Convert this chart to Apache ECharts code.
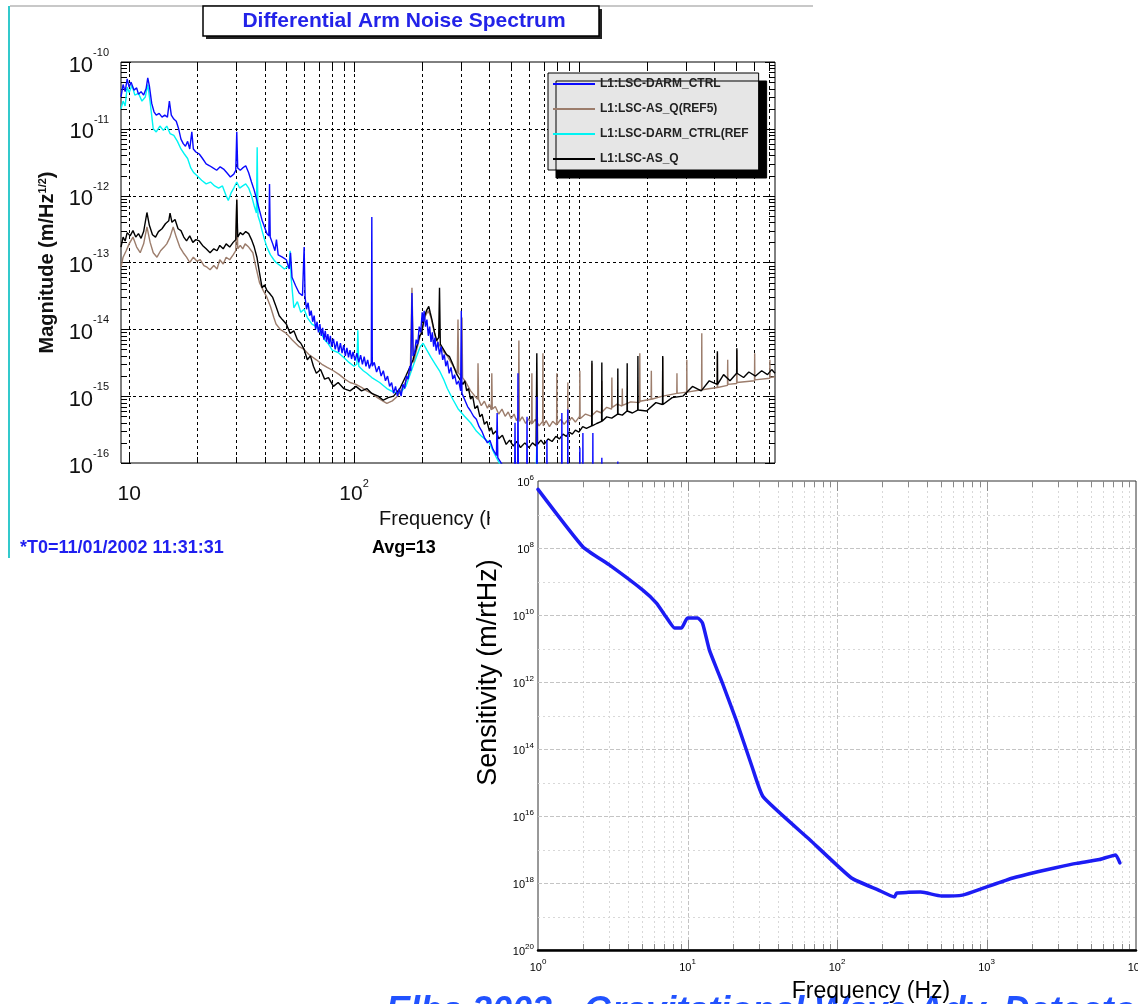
<!DOCTYPE html>
<html>
<head>
<meta charset="utf-8">
<script src="https://cdn.jsdelivr.net/npm/echarts@6/dist/echarts.min.js"></script>
<style>
  html, body { margin: 0; padding: 0; background: #fff; overflow: hidden; }
  #chart { width: 1138px; height: 1004px; }
</style>
</head>
<body>
<div id="chart"></div>
<script>
// ---------- Differential arm noise spectrum: [frequency Hz, magnitude m/Hz^1/2] ----------
const darmCtrl = [
  [9.2,3.0e-11],[9.4,4.6e-11],[9.6,3.6e-11],[9.8,5.6e-11],[10.0,4.2e-11],[10.2,5.0e-11],[10.5,3.8e-11],[10.8,4.1e-11],
  [11.0,3.3e-11],[11.3,3.6e-11],[11.6,3.2e-11],[11.9,4.0e-11],[12.1,5.8e-11],[12.3,4.4e-11],[12.6,2.4e-11],[12.9,1.8e-11],
  [13.2,1.6e-11],[13.6,1.7e-11],[14.0,1.5e-11],[14.4,1.6e-11],[14.8,1.5e-11],[15.1,2.6e-11],[15.4,1.6e-11],[15.8,1.4e-11],
  [16.2,1.3e-11],[16.6,1.0e-11],[17.0,7.0e-12],[17.4,6.0e-12],[17.8,5.5e-12],[18.2,6.5e-12],[18.6,5.0e-12],[19.0,9.0e-12],
  [19.3,5.0e-12],[19.8,4.5e-12],[20.5,4.2e-12],[21.2,3.6e-12],[22.0,3.0e-12],[22.8,2.8e-12],[23.6,2.6e-12],[24.5,2.4e-12],
  [25.4,2.7e-12],[26.3,2.5e-12],[27.2,2.2e-12],[28.2,1.9e-12],[29.2,2.1e-12],[29.8,2.4e-12],[30.1,9.0e-12],[30.4,2.6e-12],
  [31.2,2.4e-12],[32.0,2.6e-12],[33.0,2.8e-12],[34.0,2.2e-12],[35.0,1.6e-12],[36.0,1.2e-12],[37.0,8.5e-13],[38.0,6.0e-13],
  [39.0,4.3e-13],[40.0,3.4e-13],[41.0,2.7e-13],[41.8,2.5e-13],[42.1,1.5e-12],[42.4,2.4e-13],[43.5,1.9e-13],[44.5,1.5e-13],
  [45.2,2.2e-13],[46.0,1.3e-13],[48.0,1.2e-13],[50.0,1.1e-13],[51.5,8.0e-14],[52.2,1.4e-13],[53.0,6.0e-14],[55.0,4.5e-14],
  [57.0,3.5e-14],[59.0,3.2e-14],[60.0,1.7e-13],[60.6,3.0e-14],[61.5,2.0e-14],[62.5,2.5e-14],[63.5,1.6e-14],[64.5,1.9e-14],
  [65.5,1.3e-14],[66.5,1.6e-14],[67.5,1.0e-14],[68.5,1.3e-14],[69.5,9.0e-15],[70.5,1.2e-14],[71.5,8.0e-15],[72.5,1.05e-14],
  [73.5,7.0e-15],[74.5,9.5e-15],[75.5,6.5e-15],[76.5,8.5e-15],[77.5,6.0e-15],[78.5,8.0e-15],[79.5,5.5e-15],[81,7.2e-15],
  [82.5,5.0e-15],[84,6.6e-15],[85.5,4.6e-15],[87,6.2e-15],[88.5,4.4e-15],[90,5.8e-15],[91.5,4.0e-15],[93,5.3e-15],
  [94.5,3.8e-15],[96,4.9e-15],[97.5,3.6e-15],[99,4.6e-15],[101,3.4e-15],[103,4.4e-15],[105,3.2e-15],[107,4.1e-15],
  [109,3.0e-15],[111,3.9e-15],[113,2.8e-15],[115,3.5e-15],[117,2.6e-15],[119.4,3.2e-15],[120,4.8e-13],[120.6,2.8e-15],
  [123,3.2e-15],[126,2.3e-15],[129,2.8e-15],[132,2.0e-15],[135,2.4e-15],[138,1.7e-15],[141,2.0e-15],[144,1.4e-15],
  [147,1.6e-15],[150,1.1e-15],[153,1.4e-15],[156,1.0e-15],[159,1.3e-15],[162,1.0e-15],[165,1.5e-15],[168,1.3e-15],
  [171,2.0e-15],[174,1.8e-15],[177,2.8e-15],[179,2.4e-15],[181,3.5e-14],[183,4.0e-15],[186,4.5e-15],[189,7.0e-15],
  [192,6.0e-15],[195,1.1e-14],[198,9.0e-15],[201,1.8e-14],[203,1.3e-14],[205,1.9e-14],[208,1.1e-14],[211,1.4e-14],
  [214,8.0e-15],[217,1.1e-14],[220,6.5e-15],[223,9.0e-15],[226,5.5e-15],[229,7.5e-15],[232,4.8e-15],[236,6.5e-15],
  [240,4.2e-15],[244,5.5e-15],[248,3.5e-15],[252,4.2e-15],[256,2.8e-15],[260,3.4e-15],[265,2.2e-15],[270,2.7e-15],
  [275,1.8e-15],[280,2.1e-15],[286,1.5e-15],[292,1.7e-15],[298,1.2e-15],[300,1.9e-14],[302,1.1e-15],[310,9.0e-16],
  [320,7.0e-16],[330,6.0e-16],[340,5.0e-16],[350,4.5e-16],[360,3.5e-16],[370,3.0e-16],[380,2.4e-16],[392,2.0e-16],
  [402,2.2e-16],[415,1.6e-16],[430,1.3e-16],[433,5.6e-16],[436,1.2e-16],[460,9.0e-17],[490,7.0e-17],[518,6.0e-17],
  [520,4.0e-16],[522,6.0e-17],[534,6.0e-17],[536,2.2e-15],[538,6.0e-17],[586,5.0e-17],[588,4.9e-16],[590,5.0e-17],
  [649,5.0e-17],[651,9.8e-16],[653,5.0e-17],[719,4.5e-17],[721,2.2e-16],[723,4.5e-17],[838,4.0e-17],[840,5.6e-16],
  [842,4.0e-17],[891,4.0e-17],[893,6.3e-16],[895,4.0e-17],[1008,3.5e-17],[1010,1.7e-16],[1013,3.5e-17],[1040,3.5e-17],
  [1042,2.8e-16],[1044,3.5e-17],[1152,3.2e-17],[1154,2.8e-16],[1156,3.2e-17],[1263,3.0e-17],[1265,1.2e-16],[1268,3.0e-17],
  [1487,2.8e-17],[1490,1.05e-16],[1493,2.8e-17],[2000,2.5e-17]
];

const asQRef5 = [
  [9.2,8.5e-14],[9.4,1.2e-13],[9.7,1.5e-13],[10.0,1.9e-13],[10.4,2.4e-13],[10.8,1.7e-13],[11.2,1.4e-13],[11.6,1.9e-13],
  [12.0,3.4e-13],[12.4,2.0e-13],[12.8,1.4e-13],[13.3,1.2e-13],[13.8,1.5e-13],[14.3,1.7e-13],[14.7,1.9e-13],[15.2,2.4e-13],
  [15.7,3.4e-13],[16.2,2.4e-13],[16.8,1.7e-13],[17.4,1.4e-13],[18.0,1.2e-13],[18.6,1.0e-13],[19.3,1.2e-13],[20.0,1.05e-13],
  [20.7,1.1e-13],[21.5,9.0e-14],[22.2,8.5e-14],[22.9,7.8e-14],[23.8,9.0e-14],[24.6,8.0e-14],[25.3,1.1e-13],[26.2,9.5e-14],
  [27.0,1.2e-13],[28.0,1.1e-13],[29.0,1.3e-13],[29.8,1.5e-13],[30.1,9.0e-13],[30.4,1.6e-13],[31.2,1.8e-13],[32.0,1.6e-13],
  [32.8,1.9e-13],[34.0,1.7e-13],[35.5,1.4e-13],[36.5,9.0e-14],[38.0,5.0e-14],[39.5,3.8e-14],[41.0,3.0e-14],[42.5,2.2e-14],
  [44.0,1.5e-14],[45.0,1.2e-14],[47.0,1.0e-14],[50.0,8.7e-15],[53.0,7.0e-15],[57.0,5.5e-15],[60.0,5.0e-15],[63.0,4.2e-15],
  [68.0,3.5e-15],[72.0,3.0e-15],[76.0,2.7e-15],[81.0,2.4e-15],[86.0,2.1e-15],[91.0,1.8e-15],[96.0,1.6e-15],[102,1.5e-15],
  [108,1.35e-15],[114,1.2e-15],[120,1.1e-15],[127,9.5e-16],[134,8.5e-16],[140,7.8e-16],[148,8.5e-16],[156,1.0e-15],
  [164,1.3e-15],[172,1.8e-15],[178,2.4e-15],[181,4.2e-14],[184,3.2e-15],[190,5.0e-15],[196,7.5e-15],[202,1.1e-14],
  [208,1.6e-14],[214,1.9e-14],[220,1.5e-14],[226,1.0e-14],[232,7.0e-15],[238,6.0e-15],[245,5.2e-15],[252,4.5e-15],
  [260,4.0e-15],[270,3.2e-15],[280,2.6e-15],[288,2.2e-15],[290,1.4e-14],[292,2.2e-15],[300,2.0e-15],[302,1.5e-14],
  [304,1.9e-15],[315,1.6e-15],[330,1.2e-15],[345,1.0e-15],[355,9.0e-16],[356,3.1e-15],[358,9.0e-16],[368,7.2e-16],
  [380,8.4e-16],[392,6.6e-16],[400,7.6e-16],[408,6.2e-16],[410,2.2e-15],[412,6.4e-16],[425,7.0e-16],[440,5.4e-16],
  [455,6.4e-16],[470,5.0e-16],[485,5.8e-16],[500,4.6e-16],[515,5.4e-16],[528,4.3e-16],[538,4.9e-16],[541,6.8e-15],
  [544,4.2e-16],[560,4.9e-16],[580,3.9e-16],[598,4.6e-16],[616,3.8e-16],[618,2.2e-15],[620,3.9e-16],[640,4.5e-16],
  [665,3.6e-16],[690,4.2e-16],[692,4.4e-15],[694,3.6e-16],[715,4.3e-16],[740,3.5e-16],[765,4.2e-16],[796,3.7e-16],
  [798,2.2e-15],[800,3.8e-16],[830,4.5e-16],[860,3.8e-16],[891,4.4e-16],[893,1.6e-15],[895,4.0e-16],[930,4.8e-16],
  [965,4.1e-16],[1007,5.0e-16],[1010,2.4e-15],[1013,4.6e-16],[1070,5.4e-16],[1140,5.0e-16],[1143,3.1e-15],[1146,5.2e-16],
  [1200,6.0e-16],[1262,5.6e-16],[1265,1.7e-15],[1268,5.8e-16],[1330,6.8e-16],[1398,6.4e-16],[1402,1.9e-15],[1406,6.8e-16],
  [1480,7.6e-16],[1556,7.1e-16],[1560,1.3e-15],[1564,7.3e-16],[1700,8.2e-16],[1862,8.0e-16],[1866,4.4e-15],[1870,8.4e-16],
  [2095,9.0e-16],[2100,2.4e-15],[2105,9.0e-16],[2355,1.0e-15],[2360,3.8e-15],[2365,1.0e-15],[2725,1.1e-15],[2730,2.2e-15],
  [2735,1.1e-15],[3014,1.15e-15],[3020,3.5e-15],[3026,1.15e-15],[3513,1.25e-15],[3520,8.7e-15],[3527,1.25e-15],
  [4122,1.35e-15],[4130,4.4e-15],[4138,1.35e-15],[4580,1.45e-15],[4590,3.5e-15],[4600,1.5e-15],[5030,1.55e-15],
  [5040,4.9e-15],[5050,1.6e-15],[6040,1.7e-15],[6050,4.4e-15],[6060,1.75e-15],[7060,1.85e-15],[7070,3.5e-15],
  [7080,1.9e-15],[7450,1.95e-15]
];

const darmCtrlRef = [
  [9.2,2.0e-11],[9.4,2.6e-11],[9.6,2.2e-11],[9.8,4.2e-11],[10.0,3.5e-11],[10.3,4.5e-11],[10.6,3.2e-11],[11.0,3.4e-11],
  [11.4,2.6e-11],[11.8,3.0e-11],[12.1,4.6e-11],[12.4,2.5e-11],[12.8,1.0e-11],[13.2,9.0e-12],[13.7,1.1e-11],[14.2,9.5e-12],
  [14.7,1.1e-11],[15.2,8.5e-12],[15.8,8.0e-12],[16.4,6.5e-12],[17.0,5.0e-12],[17.6,4.2e-12],[18.2,3.6e-12],[18.8,2.6e-12],
  [19.4,2.2e-12],[20.0,2.0e-12],[21.0,1.7e-12],[22.0,1.5e-12],[23.0,1.6e-12],[24.0,1.4e-12],[25.0,1.3e-12],[26.0,1.4e-12],
  [27.0,1.0e-12],[27.6,8.5e-13],[28.4,1.1e-12],[29.2,1.3e-12],[30.1,1.6e-12],[31.0,1.3e-12],[32.0,1.4e-12],[33.0,1.5e-12],
  [34.0,1.3e-12],[35.0,1.0e-12],[36.0,7.0e-13],[36.8,5.5e-13],[37.1,5.3e-12],[37.4,5.0e-13],[38.2,4.0e-13],[39.0,3.0e-13],
  [40.0,2.2e-13],[41.0,1.7e-13],[42.5,1.3e-13],[44.0,1.1e-13],[45.0,1.0e-13],[47.0,9.0e-14],[49.0,8.0e-14],[51.5,9.0e-14],
  [52.0,1.5e-13],[52.5,6.0e-14],[54.0,2.1e-14],[56.0,2.6e-14],[58.0,1.8e-14],[60.0,2.0e-14],[62.0,1.5e-14],[65.0,1.2e-14],
  [68.0,1.1e-14],[71.0,9.0e-15],[74.0,7.0e-15],[77.0,6.0e-15],[80.0,4.9e-15],[85.0,4.5e-15],[90.0,3.8e-15],[95.0,3.2e-15],
  [100,2.8e-15],[103,3.0e-15],[104,9.7e-15],[105,2.8e-15],[110,2.4e-15],[114,2.2e-15],[120,1.9e-15],[130,1.6e-15],
  [140,1.3e-15],[150,1.15e-15],[160,1.1e-15],[170,1.4e-15],[180,2.4e-15],[190,4.0e-15],[197,5.5e-15],[203,6.2e-15],
  [210,5.0e-15],[220,3.8e-15],[230,3.0e-15],[240,2.4e-15],[250,1.8e-15],[260,1.3e-15],[275,9.0e-16],[290,6.5e-16],
  [310,5.0e-16],[330,4.0e-16],[350,3.0e-16],[370,2.5e-16],[400,2.0e-16],[420,1.4e-16],[450,9.0e-17],[500,6.0e-17],
  [645,6.0e-17],[650,2.0e-16],[655,5.0e-17],[800,4.0e-17],[1000,3.0e-17]
];

const asQ = [
  [9.2,1.7e-13],[9.4,2.4e-13],[9.6,2.1e-13],[9.8,2.8e-13],[10.1,2.5e-13],[10.4,3.0e-13],[10.7,2.4e-13],[11.0,2.7e-13],
  [11.3,2.3e-13],[11.6,2.9e-13],[12.0,5.6e-13],[12.3,3.6e-13],[12.7,2.6e-13],[13.1,2.4e-13],[13.5,2.9e-13],[14.0,3.2e-13],
  [14.5,3.8e-13],[15.0,4.2e-13],[15.2,5.5e-13],[15.5,4.0e-13],[16.0,4.4e-13],[16.5,3.2e-13],[17.0,3.0e-13],[17.5,2.4e-13],
  [18.0,2.1e-13],[18.6,2.5e-13],[19.2,2.0e-13],[19.8,2.2e-13],[20.5,2.1e-13],[21.2,1.8e-13],[22.0,1.6e-13],[22.9,1.4e-13],
  [23.8,1.6e-13],[24.6,1.5e-13],[25.3,1.8e-13],[26.2,1.6e-13],[27.0,1.9e-13],[28.0,1.7e-13],[29.0,2.0e-13],[29.8,2.2e-13],
  [30.1,8.6e-13],[30.4,2.4e-13],[31.2,2.8e-13],[32.0,2.6e-13],[33.0,2.9e-13],[34.0,2.7e-13],[35.0,2.2e-13],[36.0,1.7e-13],
  [37.0,1.2e-13],[38.0,7.0e-14],[39.0,4.2e-14],[40.0,4.6e-14],[41.0,3.8e-14],[42.0,3.5e-14],[43.5,3.0e-14],[45.0,2.2e-14],
  [46.5,1.6e-14],[48.0,1.4e-14],[50.0,1.2e-14],[52.0,8.7e-15],[54.0,9.5e-15],[56.0,7.0e-15],[58.0,6.2e-15],[60.0,5.0e-15],
  [62.0,3.5e-15],[64.0,4.0e-15],[66.0,2.8e-15],[68.0,2.2e-15],[71.0,2.5e-15],[74.0,1.8e-15],[77.0,1.9e-15],[81.0,1.4e-15],
  [85.0,1.6e-15],[90.0,1.3e-15],[96.0,1.2e-15],[102,1.4e-15],[108,1.2e-15],[114,1.3e-15],[120,1.1e-15],[128,1.0e-15],
  [135,8.7e-16],[142,9.5e-16],[150,1.0e-15],[160,1.3e-15],[170,2.0e-15],[178,2.8e-15],[183,3.5e-15],[190,5.5e-15],
  [196,8.0e-15],[200,8.7e-15],[205,1.5e-14],[210,1.9e-14],[215,2.2e-14],[218,1.8e-14],[222,1.4e-14],[228,9.0e-15],
  [233,6.8e-15],[238,7.5e-15],[240,4.2e-14],[242,6.0e-15],[250,5.0e-15],[258,4.2e-15],[266,3.9e-15],[275,3.0e-15],
  [285,2.2e-15],[295,1.8e-15],[305,1.5e-15],[311,1.7e-15],[317,1.2e-15],[323,1.3e-15],[330,9.0e-16],[337,1.0e-15],
  [345,6.5e-16],[354,7.2e-16],[363,4.9e-16],[371,5.4e-16],[380,3.8e-16],[390,4.2e-16],[400,3.0e-16],[408,3.4e-16],
  [415,2.7e-16],[428,3.0e-16],[440,2.3e-16],[457,2.6e-16],[475,1.9e-16],[492,2.2e-16],[510,1.8e-16],[530,2.1e-16],
  [550,1.7e-16],[575,2.0e-16],[600,1.7e-16],[622,2.0e-16],[645,1.8e-16],[650,4.4e-15],[655,1.9e-16],[678,2.2e-16],
  [700,1.9e-16],[730,2.3e-16],[760,2.1e-16],[790,2.5e-16],[820,2.3e-16],[850,2.7e-16],[880,2.5e-16],[905,2.9e-16],
  [935,2.7e-16],[965,3.1e-16],[1000,2.9e-16],[1040,3.5e-16],[1080,3.3e-16],[1140,3.6e-16],[1143,3.4e-15],[1146,3.6e-16],
  [1200,3.9e-16],[1262,4.2e-16],[1265,3.2e-15],[1268,4.2e-16],[1330,4.9e-16],[1400,4.7e-16],[1487,5.4e-16],[1490,2.6e-15],
  [1493,5.4e-16],[1560,5.2e-16],[1637,6.0e-16],[1640,3.1e-15],[1643,6.0e-16],[1730,5.6e-16],[1826,6.2e-16],[1830,4.0e-15],
  [1834,6.2e-16],[2000,6.0e-16],[2200,8.0e-16],[2355,7.5e-16],[2360,4.0e-15],[2365,7.5e-16],[2600,9.5e-16],[2900,1.0e-15],
  [3200,1.4e-15],[3500,1.2e-15],[3800,1.7e-15],[4122,1.5e-15],[4130,4.7e-15],[4138,1.5e-15],[4400,2.1e-15],[4700,1.7e-15],
  [5030,2.2e-15],[5040,5.2e-15],[5050,2.2e-15],[5400,1.9e-15],[5700,2.3e-15],[6100,2.0e-15],[6500,2.4e-15],[6900,2.1e-15],
  [7200,2.5e-15],[7450,2.2e-15]
];

// ---------- Design sensitivity: [frequency Hz, sensitivity] ----------
const designSensitivity = [
  [1.0,1.78e6],[2.0,9.3e7],[3.0,3.2e8],[5.0,1.78e9],[6.2,4.4e9],[7.2,1.15e10],[8.2,2.45e10],[9.1,2.45e10],
  [10.0,1.23e10],[11.7,1.23e10],[12.6,1.74e10],[14.0,1.1e11],[15.8,4.4e11],[16.3,6.2e11],[17.1,1.07e12],[21.2,1.4e13],
  [27.1,3.5e14],[32.1,2.7e15],[66,5.2e16],[125,7.1e17],[188,1.6e18],[243,2.6e18],[250,2.0e18],[300,1.9e18],
  [362,1.86e18],[400,2.0e18],[500,2.45e18],[690,2.3e18],[960,1.4e18],[1500,7.1e17],[2200,4.6e17],[2900,3.5e17],
  [4000,2.6e17],[5700,2.0e17],[7300,1.45e17],[7800,2.5e17]
];

// ---------- Axis ticks and grid positions ----------
const spectrumGridFreqs = [10,20,30,40,50,60,70,80,90,100,200,300,400,500,600,700,800,900,1000,2000,3000,4000,5000,6000,7000];
const spectrumDecades = [1e-16,1e-15,1e-14,1e-13,1e-12,1e-11,1e-10];
const sensitivityGridFreqs = [2,3,4,5,6,7,8,9,10,20,30,40,50,60,70,80,90,100,200,300,400,500,600,700,800,900,1000,2000,3000,4000,5000,6000,7000,8000,9000];
const sensitivityGridLevels = [1e7,1e8,1e9,1e10,1e11,1e12,1e13,1e14,1e15,1e16,1e17,1e18,1e19];
const minorSteps = [2,3,4,5,6,7,8,9];

const FONT = '"Liberation Sans", Arial, Helvetica, sans-serif';

function isDecade(v) {
  const e = Math.log10(v);
  return Math.abs(e - Math.round(e)) < 1e-6;
}
function powerLabel(v, plainTen) {
  if (!isDecade(v)) return '';
  const e = Math.round(Math.log10(v));
  if (plainTen && e === 1) return '{b|10}';
  return '{b|10}{s|' + e + '}';
}

// left-axis ticks: decade (major) and 2..9 (minor) for each decade
const spectrumYTicks = [];
spectrumDecades.forEach(d => {
  spectrumYTicks.push([10, d, 1]);
  if (d < 1e-10) minorSteps.forEach(m => spectrumYTicks.push([10, m * d, 0]));
});

function crisp(v) { return Math.round(v) + 0.5; }

function vGrid(yRef, majorStyle, minorStyle) {
  return function (params, api) {
    const cs = params.coordSys;
    const x = crisp(api.coord([api.value(0), yRef])[0]);
    return {
      type: 'line',
      shape: { x1: x, y1: cs.y, x2: x, y2: cs.y + cs.height },
      style: isDecade(api.value(0)) ? majorStyle : minorStyle
    };
  };
}
function hGrid(xRef, majorStyle, minorStyle, majorTest) {
  return function (params, api) {
    const cs = params.coordSys;
    const y = crisp(api.coord([xRef, api.value(1)])[1]);
    return {
      type: 'line',
      shape: { x1: cs.x, y1: y, x2: cs.x + cs.width, y2: y },
      style: majorTest(api.value(1)) ? majorStyle : minorStyle
    };
  };
}
function xTicks(yRef, color) {
  return function (params, api) {
    const cs = params.coordSys;
    const x = crisp(api.coord([api.value(0), yRef])[0]);
    const len = isDecade(api.value(0)) ? 10 : 6;
    const st = { stroke: color, lineWidth: 1 };
    return { type: 'group', children: [
      { type: 'line', shape: { x1: x, y1: cs.y, x2: x, y2: cs.y + len }, style: st },
      { type: 'line', shape: { x1: x, y1: cs.y + cs.height - len, x2: x, y2: cs.y + cs.height }, style: st }
    ]};
  };
}
function yTicks(xRef, color) {
  return function (params, api) {
    const cs = params.coordSys;
    const y = crisp(api.coord([xRef, api.value(1)])[1]);
    const len = api.value(2) ? 10 : 6;
    const st = { stroke: color, lineWidth: 1 };
    return { type: 'group', children: [
      { type: 'line', shape: { x1: cs.x, y1: y, x2: cs.x + len, y2: y }, style: st },
      { type: 'line', shape: { x1: cs.x + cs.width - len, y1: y, x2: cs.x + cs.width, y2: y }, style: st }
    ]};
  };
}

const spectrumDash = { stroke: '#000', lineWidth: 1, lineDash: [3, 3] };
const sensMajor = { stroke: '#c4c4c4', lineWidth: 1, lineDash: [4, 2] };
const sensMinor = { stroke: '#d8d8d8', lineWidth: 1, lineDash: [2, 3] };

const names = ['L1:LSC-DARM_CTRL', 'L1:LSC-AS_Q(REF5)', 'L1:LSC-DARM_CTRL(REF', 'L1:LSC-AS_Q'];

const chart = echarts.init(document.getElementById('chart'), null, { renderer: 'canvas' });

const option = {
  animation: false,
  backgroundColor: '#fff',
  grid: [
    { left: 121, top: 62, width: 654, height: 401, show: true, borderColor: '#000', borderWidth: 1,
      backgroundColor: 'transparent', containLabel: false, outerBoundsMode: 'none' },
    { left: 538, top: 481, width: 598, height: 469, show: true, borderColor: '#333', borderWidth: 1,
      backgroundColor: '#fff', z: 4, containLabel: false, outerBoundsMode: 'none' }
  ],
  xAxis: [
    {
      gridIndex: 0, type: 'log', min: 9.2, max: 7450,
      axisLine: { show: false }, axisTick: { show: false }, splitLine: { show: false },
      axisLabel: {
        margin: 15, formatter: v => powerLabel(v, true), hideOverlap: false,
        rich: {
          b: { fontSize: 21, fontFamily: FONT, color: '#111', padding: [6, 0, 0, 0] },
          s: { fontSize: 11, fontFamily: FONT, color: '#111', verticalAlign: 'top' }
        }
      },
      name: 'Frequency (Hz)', nameLocation: 'middle', nameGap: 46,
      nameTextStyle: { fontSize: 20, fontFamily: FONT, color: '#111' }
    },
    {
      gridIndex: 1, type: 'log', min: 1, max: 10000, z: 5,
      axisLine: { show: true, lineStyle: { color: '#000', width: 2.5 } },
      axisTick: { show: false }, splitLine: { show: false },
      axisLabel: {
        margin: 8, formatter: v => powerLabel(v, false), hideOverlap: false,
        showMinLabel: true, showMaxLabel: true,
        rich: {
          b: { fontSize: 11, fontFamily: FONT, color: '#000', padding: [4, 0, 0, 0] },
          s: { fontSize: 8, fontFamily: FONT, color: '#000', verticalAlign: 'top' }
        }
      },
      name: 'Frequency (Hz)', nameLocation: 'middle', nameGap: 30,
      nameTextStyle: { fontSize: 23, fontFamily: FONT, color: '#000', padding: [0, 0, 0, 68] }
    }
  ],
  yAxis: [
    {
      gridIndex: 0, type: 'log', min: 1e-16, max: 1e-10,
      axisLine: { show: false }, axisTick: { show: false }, splitLine: { show: false },
      axisLabel: {
        margin: 12, formatter: v => powerLabel(v, false),
        rich: {
          b: { fontSize: 22, fontFamily: FONT, color: '#111', padding: [7, 0, 0, 0] },
          s: { fontSize: 11, fontFamily: FONT, color: '#111', verticalAlign: 'top' }
        }
      },
      name: 'Magnitude (m/Hz{sup|1/2})', nameLocation: 'middle', nameGap: 64,
      nameTextStyle: {
        fontSize: 20, fontWeight: 'bold', fontFamily: FONT, color: '#111',
        rich: { sup: { fontSize: 11, fontFamily: FONT, color: '#111', verticalAlign: 'top' } }
      }
    },
    {
      gridIndex: 1, type: 'log', logBase: 100, min: 1e6, max: 1e20, inverse: true, z: 5,
      axisLine: { show: false }, axisTick: { show: false }, splitLine: { show: false },
      axisLabel: {
        margin: 4, formatter: v => powerLabel(v, false),
        rich: {
          b: { fontSize: 11, fontFamily: FONT, color: '#000', padding: [4, 0, 0, 0] },
          s: { fontSize: 8, fontFamily: FONT, color: '#000', verticalAlign: 'top' }
        }
      },
      name: 'Sensitivity (m/rtHz)', nameLocation: 'middle', nameGap: 36,
      nameTextStyle: { fontSize: 27, fontFamily: FONT, color: '#000', padding: [0, 0, 0, 86] }
    }
  ],
  legend: {
    data: names,
    left: 548, top: 73, orient: 'vertical',
    icon: 'rect', itemWidth: 42, itemHeight: 2, itemGap: 13,
    padding: [5, 10, 5, 5],
    backgroundColor: '#e6e6e6', borderColor: '#000', borderWidth: 1,
    shadowColor: '#000', shadowBlur: 0, shadowOffsetX: 8, shadowOffsetY: 8,
    selectedMode: false,
    textStyle: { fontSize: 12, fontWeight: 'bold', fontFamily: FONT, color: '#222', width: 155, overflow: 'truncate', ellipsis: '' }
  },
  graphic: [
    // page frame lines
    { type: 'line', shape: { x1: 10, y1: 6, x2: 813, y2: 6 }, style: { stroke: '#c8c8c8', lineWidth: 2 }, z: 1 },
    { type: 'line', shape: { x1: 9, y1: 6, x2: 9, y2: 558 }, style: { stroke: '#33c9cc', lineWidth: 2 }, z: 1 },
    // title box with drop shadow
    { type: 'rect', shape: { x: 206, y: 9, width: 396, height: 30 }, style: { fill: '#222' }, z: 1 },
    { type: 'rect', shape: { x: 203, y: 6, width: 396, height: 30 }, style: { fill: '#fff', stroke: '#000', lineWidth: 1.5 }, z: 1 },
    { type: 'text', x: 404, y: 21, style: { text: 'Differential Arm Noise Spectrum', fill: '#2323e8', font: 'bold 21px ' + FONT, align: 'center', verticalAlign: 'middle' }, z: 1 },
    // measurement info
    { type: 'text', x: 20, y: 548, style: { text: '*T0=11/01/2002 11:31:31', fill: '#1f1ff0', font: 'bold 18px ' + FONT, align: 'left', verticalAlign: 'middle' }, z: 1 },
    { type: 'text', x: 372, y: 548, style: { text: 'Avg=13', fill: '#000', font: 'bold 18px ' + FONT, align: 'left', verticalAlign: 'middle' }, z: 1 },
    // panel behind the sensitivity plot
    { type: 'rect', shape: { x: 490, y: 468, width: 648, height: 536 }, style: { fill: '#fff' }, z: 3 },
    // footer caption
    { type: 'text', x: 386, y: 1012, style: { text: 'Elba 2003 - Gravitational Wave Adv. Detector Workshop', fill: '#2152ff', font: 'italic bold 36px ' + FONT, align: 'left', verticalAlign: 'middle' }, z: 4 }
  ],
  series: [
    // spectrum grid and ticks
    { type: 'custom', xAxisIndex: 0, yAxisIndex: 0, silent: true, z: 1,
      data: spectrumGridFreqs.map(f => [f, 1e-13]), renderItem: vGrid(1e-13, spectrumDash, spectrumDash) },
    { type: 'custom', xAxisIndex: 0, yAxisIndex: 0, silent: true, z: 1,
      data: spectrumDecades.slice(1, -1).map(d => [10, d]), renderItem: hGrid(10, spectrumDash, spectrumDash, () => true) },
    { type: 'custom', xAxisIndex: 0, yAxisIndex: 0, silent: true, z: 1,
      data: spectrumGridFreqs.map(f => [f, 1e-13]), renderItem: xTicks(1e-13, '#000') },
    { type: 'custom', xAxisIndex: 0, yAxisIndex: 0, silent: true, z: 1,
      data: spectrumYTicks, renderItem: yTicks(10, '#000') },
    // spectra
    { name: names[2], type: 'line', xAxisIndex: 0, yAxisIndex: 0, data: darmCtrlRef, showSymbol: false, symbol: 'none',
      lineStyle: { color: '#00f4f4', width: 1.4 }, itemStyle: { color: '#00f4f4' }, z: 2 },
    { name: names[1], type: 'line', xAxisIndex: 0, yAxisIndex: 0, data: asQRef5, showSymbol: false, symbol: 'none',
      lineStyle: { color: '#9c7d6c', width: 1.4 }, itemStyle: { color: '#9c7d6c' }, z: 2 },
    { name: names[3], type: 'line', xAxisIndex: 0, yAxisIndex: 0, data: asQ, showSymbol: false, symbol: 'none',
      lineStyle: { color: '#000', width: 1.4 }, itemStyle: { color: '#000' }, z: 2 },
    { name: names[0], type: 'line', xAxisIndex: 0, yAxisIndex: 0, data: darmCtrl, showSymbol: false, symbol: 'none',
      lineStyle: { color: '#0a0aff', width: 1.4 }, itemStyle: { color: '#0a0aff' }, z: 2 },
    // sensitivity grid and ticks
    { type: 'custom', xAxisIndex: 1, yAxisIndex: 1, silent: true, z: 4,
      data: sensitivityGridFreqs.map(f => [f, 1e10]), renderItem: vGrid(1e10, sensMajor, sensMinor) },
    { type: 'custom', xAxisIndex: 1, yAxisIndex: 1, silent: true, z: 4,
      data: sensitivityGridLevels.map(v => [10, v]), renderItem: hGrid(10, sensMajor, sensMinor, v => Math.round(Math.log10(v)) % 2 === 0) },
    { type: 'custom', xAxisIndex: 1, yAxisIndex: 1, silent: true, z: 4,
      data: sensitivityGridFreqs.map(f => [f, 1e10]), renderItem: xTicks(1e10, '#888') },
    // sensitivity curve
    { name: 'Sensitivity', type: 'line', xAxisIndex: 1, yAxisIndex: 1, data: designSensitivity, showSymbol: false, symbol: 'none',
      smooth: 0.15, lineStyle: { color: '#1c1cf4', width: 3.5, join: 'round', cap: 'round' }, z: 6 }
  ]
};

chart.setOption(option);
</script>
</body>
</html>
